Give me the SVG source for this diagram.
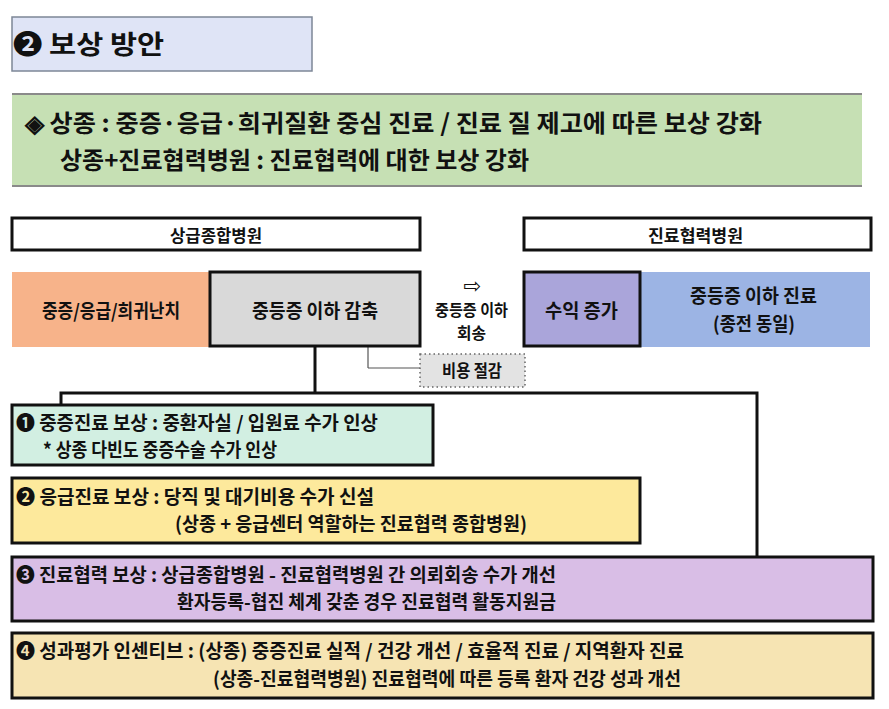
<svg xmlns="http://www.w3.org/2000/svg" width="889" height="709" viewBox="0 0 889 709">
<style>
text{font-family:"Noto Sans CJK KR","Noto Sans",sans-serif;font-weight:700;fill:#111;}
.t17{font-size:19px;}
.t16{font-size:17px;}
.t15{font-size:16px;}
.bx{stroke:#111;stroke-width:3;}
.conn{fill:none;stroke:#111;stroke-width:3;}
.thin{fill:none;stroke:#555;stroke-width:1.2;}
</style>
<rect width="889" height="709" fill="#ffffff"/>

<g id="title">
<rect x="12" y="17" width="300" height="54" fill="#dfe4f6" stroke="#7d8797" stroke-width="1.5"/>
<text x="13" y="54" font-size="26" textLength="151" lengthAdjust="spacingAndGlyphs">❷ 보상 방안</text>
</g>

<g id="summary">
<rect x="12" y="94" width="850" height="92" fill="#c6e0b4"/>
<line x1="12" y1="94" x2="862" y2="94" stroke="#8a8a8a" stroke-width="2"/>
<line x1="12" y1="186" x2="862" y2="186" stroke="#8a8a8a" stroke-width="2"/>
<text x="25" y="132" font-size="24" textLength="737" lengthAdjust="spacingAndGlyphs">◈ 상종 : 중증·응급·희귀질환 중심 진료 / 진료 질 제고에 따른 보상 강화</text>
<text x="60" y="169" font-size="24" textLength="469" lengthAdjust="spacingAndGlyphs">상종+진료협력병원 : 진료협력에 대한 보상 강화</text>
</g>

<g id="connectors">
<line class="thin" x1="368" y1="347" x2="368" y2="368"/>
<line class="thin" x1="368" y1="368" x2="420" y2="368"/>
<polyline class="conn" points="315,347 315,393"/>
<polyline class="conn" points="61,405 61,393 757,393 757,557"/>
</g>

<g id="upper-hospital">
<rect class="bx" x="12" y="218" width="408" height="32" fill="#ffffff"/>
<text class="t16" x="170" y="242" textLength="92" lengthAdjust="spacingAndGlyphs">상급종합병원</text>
</g>

<g id="partner-hospital">
<rect class="bx" x="524" y="218" width="347" height="32" fill="#ffffff"/>
<text class="t16" x="648" y="242" textLength="95" lengthAdjust="spacingAndGlyphs">진료협력병원</text>
</g>

<g id="severe">
<rect x="12" y="272" width="198" height="75" fill="#f7b38a"/>
<text class="t17" x="42" y="318" textLength="138" lengthAdjust="spacingAndGlyphs">중증/응급/희귀난치</text>
</g>

<g id="moderate-reduce">
<rect class="bx" x="210" y="272" width="210" height="74" fill="#d9d9d9"/>
<text class="t17" x="252" y="318" textLength="126" lengthAdjust="spacingAndGlyphs">중등증 이하 감축</text>
</g>

<g id="transfer">
<text x="472" y="293" font-size="21" text-anchor="middle" style="font-family:'DejaVu Sans',sans-serif;font-weight:400">⇨</text>
<text class="t15" x="435" y="316" textLength="73" lengthAdjust="spacingAndGlyphs">중등증 이하</text>
<text class="t15" x="457" y="339" textLength="29" lengthAdjust="spacingAndGlyphs">회송</text>
</g>

<g id="revenue">
<rect x="640" y="272" width="230" height="75" fill="#9cb4e4"/>
<rect class="bx" x="524" y="272" width="116" height="74" fill="#aaa5da"/>
<text class="t17" x="545" y="318" textLength="73" lengthAdjust="spacingAndGlyphs">수익 증가</text>
</g>

<g id="moderate-care">
<text class="t17" x="690" y="303" textLength="127" lengthAdjust="spacingAndGlyphs">중등증 이하 진료</text>
<text class="t17" x="713" y="331" textLength="82" lengthAdjust="spacingAndGlyphs">(종전 동일)</text>
</g>

<g id="cost-saving">
<rect x="420" y="354" width="105" height="33" fill="#e3e3e3" stroke="#666" stroke-width="1.5" stroke-dasharray="1.5,3"/>
<text class="t16" x="442" y="377" textLength="60" lengthAdjust="spacingAndGlyphs">비용 절감</text>
</g>

<g id="item1">
<rect class="bx" x="12" y="405" width="421" height="60" fill="#d2efe2"/>
<text class="t17" x="16" y="430" textLength="362" lengthAdjust="spacingAndGlyphs">❶ 중증진료 보상 : 중환자실 / 입원료 수가 인상</text>
<text class="t17" x="43" y="457" textLength="234" lengthAdjust="spacingAndGlyphs">* 상종 다빈도 중증수술 수가 인상</text>
</g>

<g id="item2">
<rect class="bx" x="12" y="478" width="628" height="65" fill="#fde99c"/>
<text class="t17" x="16" y="504" textLength="358" lengthAdjust="spacingAndGlyphs">❷ 응급진료 보상 : 당직 및 대기비용 수가 신설</text>
<text class="t17" x="175" y="531" textLength="352" lengthAdjust="spacingAndGlyphs">(상종 + 응급센터 역할하는 진료협력 종합병원)</text>
</g>

<g id="item3">
<rect class="bx" x="12" y="557" width="861" height="64" fill="#d9bee6"/>
<text class="t17" x="16" y="582" textLength="540" lengthAdjust="spacingAndGlyphs">❸ 진료협력 보상 : 상급종합병원 - 진료협력병원 간 의뢰회송 수가 개선</text>
<text class="t17" x="177" y="609" textLength="379" lengthAdjust="spacingAndGlyphs">환자등록-협진 체계 갖춘 경우 진료협력 활동지원금</text>
</g>

<g id="item4">
<rect class="bx" x="12" y="633" width="861" height="65" fill="#f6e4b3"/>
<text class="t17" x="16" y="658" textLength="668" lengthAdjust="spacingAndGlyphs">❹ 성과평가 인센티브 : (상종) 중증진료 실적 / 건강 개선 / 효율적 진료 / 지역환자 진료</text>
<text class="t17" x="213" y="686" textLength="468" lengthAdjust="spacingAndGlyphs">(상종-진료협력병원) 진료협력에 따른 등록 환자 건강 성과 개선</text>
</g>
</svg>
